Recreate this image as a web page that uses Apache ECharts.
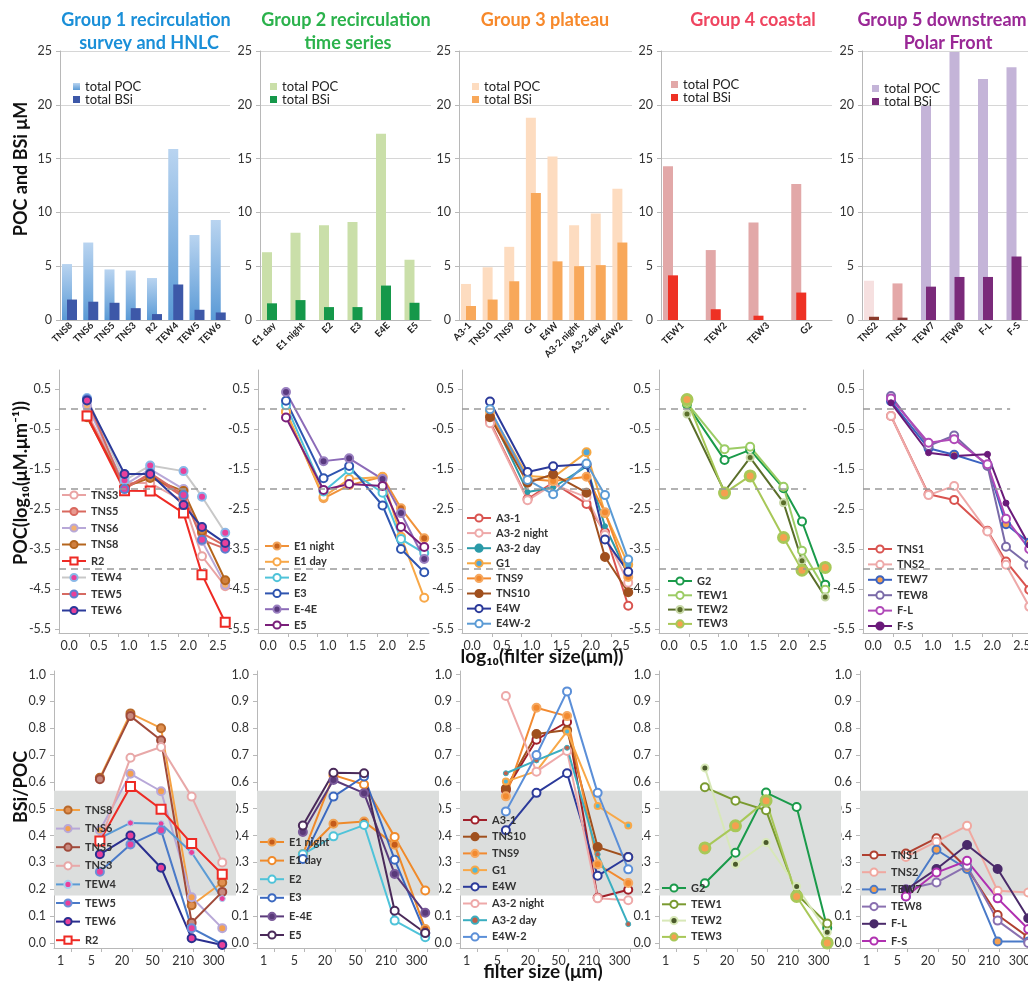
<!DOCTYPE html>
<html><head><meta charset="utf-8">
<script src="https://cdn.jsdelivr.net/npm/echarts@6/dist/echarts.min.js"></script>
<style>html,body{margin:0;padding:0;background:#fff}#c{width:1028px;height:983px}</style>
</head><body><div id="c"></div>
<script>
const FONT = 'Lato, "Open Sans", "DejaVu Sans", sans-serif';

// ---------- Row 1: total POC / BSi bars ----------
const g1Stations = ['TNS8','TNS6','TNS5','TNS3','R2','TEW4','TEW5','TEW6'];
const g1POC = [5.2, 7.2, 4.7, 4.6, 3.9, 15.9, 7.9, 9.3];
const g1BSi = [1.9, 1.7, 1.6, 1.1, 0.55, 3.3, 0.95, 0.7];
const g2Stations = ['E1 day','E1 night','E2','E3','E4E','E5'];
const g2POC = [6.3, 8.1, 8.8, 9.1, 17.3, 5.6];
const g2BSi = [1.55, 1.85, 1.2, 1.2, 3.2, 1.6];
const g3Stations = ['A3-1','TNS10','TNS9','G1','E4W','A3-2 night','A3-2 day','E4W2'];
const g3POC = [3.35, 4.9, 6.8, 18.8, 15.2, 8.8, 9.9, 12.2];
const g3BSi = [1.3, 1.9, 3.6, 11.8, 5.45, 5.0, 5.1, 7.2];
const g4Stations = ['TEW1','TEW2','TEW3','G2'];
const g4POC = [14.3, 6.5, 9.05, 12.65];
const g4BSi = [4.15, 1.0, 0.4, 2.55];
const g5Stations = ['TNS2','TNS1','TEW7','TEW8','F-L','F-S'];
const g5POC = [3.65, 3.4, 19.9, 24.9, 22.4, 23.5];
const g5BSi = [0.3, 0.22, 3.1, 4.0, 4.0, 5.9];

// ---------- Row 2: POC size spectra ----------
const midX = [0.3, 0.93, 1.36, 1.92, 2.23, 2.62];
const midXLabels = [0, 0.5, 1.0, 1.5, 2.0, 2.5];
const midYLabels = [-5.5, -4.5, -3.5, -2.5, -1.5, -0.5, 0.5];
const refLevels = [0, -2, -4];

const g1MidNames = ['TNS3','TNS5','TNS6','TNS8','R2','TEW4','TEW5','TEW6'];
const g1MidValues = [
  [-0.1, -1.85, -1.85, -2.3, -3.68, -4.43],
  [-0.15, -1.95, -1.65, -2.2, -3.1, -3.42],
  [0.1, -1.9, -1.5, -2.0, -3.3, -4.39],
  [-0.2, -1.95, -1.72, -2.05, -3.05, -4.28],
  [-0.17, -2.04, -2.05, -2.6, -4.14, -5.33],
  [0.28, -1.78, -1.41, -1.55, -2.19, -3.09],
  [0.25, -2.0, -1.6, -2.15, -3.27, -3.49],
  [0.22, -1.62, -1.62, -2.4, -2.95, -3.35]
];
const g2MidNames = ['E1 night','E1 day','E2','E3','E-4E','E5'];
const g2MidValues = [
  [-0.05, -2.23, -1.9, -1.69, -2.48, -3.23],
  [-0.07, -2.19, -1.75, -1.7, -3.19, -4.72],
  [0.1, -2.06, -1.52, -2.09, -3.25, -3.6],
  [0.21, -1.73, -1.42, -2.41, -3.5, -4.08],
  [0.43, -1.3, -1.23, -1.75, -2.6, -3.75],
  [-0.21, -2.02, -1.87, -1.92, -2.95, -3.45]
];
const g3MidNames = ['A3-1','A3-2 night','A3-2 day','G1','TNS9','TNS10','E4W','E4W-2'];
const g3MidValues = [
  [-0.31, -2.25, -1.84, -2.37, -3.08, -4.92],
  [-0.35, -2.28, -1.88, -2.2, -3.15, -4.34],
  [-0.1, -2.07, -1.96, -1.43, -2.93, -4.15],
  [-0.05, -1.67, -1.71, -1.08, -2.6, -3.89],
  [-0.15, -1.75, -1.8, -1.69, -2.58, -4.2],
  [-0.2, -1.84, -1.63, -2.09, -3.7, -4.58],
  [0.19, -1.57, -1.43, -1.38, -3.26, -4.07],
  [0.0, -1.77, -2.13, -1.36, -2.15, -3.76]
];
const g4MidNames = ['G2','TEW1','TEW2','TEW3'];
const g4MidValues = [
  [0.12, -1.27, -1.02, -1.98, -2.81, -4.39],
  [0.15, -1.0, -0.94, -1.94, -3.54, -4.52],
  [-0.12, -2.06, -1.21, -2.34, -3.79, -4.7],
  [0.24, -2.1, -1.67, -3.21, -4.03, -3.96]
];
const g5MidNames = ['TNS1','TNS2','TEW7','TEW8','F-L','F-S'];
const g5MidValues = [
  [-0.17, -2.13, -2.27, -3.04, -3.81, -4.52],
  [-0.17, -2.15, -1.92, -3.06, -3.89, -4.94],
  [0.2, -0.98, -1.14, -1.4, -2.88, -3.34],
  [0.33, -0.92, -0.66, -1.42, -3.44, -3.9],
  [0.27, -0.84, -0.75, -1.38, -2.74, -3.5],
  [0.16, -1.09, -1.17, -1.13, -2.35, -3.4]
];

// ---------- Row 3: BSi/POC ratios ----------
const botX = [1.5, 2.5, 3.5, 4.5, 5.5];
const filterLabels = ['1','5','20','50','210','300'];
const filterLabelPos = [0.22, 1.22, 2.22, 3.22, 4.22, 5.22];
const ratioLabels = [0, 0.1, 0.2, 0.3, 0.4, 0.5, 0.6, 0.7, 0.8, 0.9, 1.0];
const bandRange = [0.177, 0.567];

const g1BotNames = ['TNS8','TNS6','TNS5','TNS3','TEW4','TEW5','TEW6','R2'];
const g1BotValues = [
  [0.615, 0.855, 0.80, 0.14, 0.225],
  [0.42, 0.63, 0.565, 0.17, 0.055],
  [0.61, 0.845, 0.755, 0.075, 0.19],
  [0.375, 0.69, 0.73, 0.545, 0.30],
  [0.39, 0.447, 0.444, 0.337, 0.165],
  [0.265, 0.367, 0.42, 0.055, -0.005],
  [0.33, 0.40, 0.28, 0.017, -0.008],
  [0.38, 0.583, 0.498, 0.37, 0.256]
];
const g2BotNames = ['E1 night','E1 day','E2','E3','E-4E','E5'];
const g2BotValues = [
  [0.33, 0.444, 0.452, 0.366, 0.052],
  [0.33, 0.625, 0.59, 0.395, 0.195],
  [0.33, 0.397, 0.439, 0.083, 0.021],
  [0.313, 0.545, 0.62, 0.31, 0.037],
  [0.413, 0.607, 0.558, 0.257, 0.112],
  [0.437, 0.634, 0.632, 0.12, 0.037]
];
const g3BotNames = ['A3-1','TNS10','TNS9','G1','E4W','A3-2 night','A3-2 day','E4W-2'];
const g3BotValues = [
  [0.57, 0.757, 0.823, 0.168, 0.198],
  [0.575, 0.778, 0.793, 0.357, 0.32],
  [0.546, 0.876, 0.845, 0.293, 0.223],
  [0.601, 0.64, 0.788, 0.51, 0.437],
  [0.42, 0.559, 0.632, 0.25, 0.32],
  [0.92, 0.638, 0.715, 0.166, 0.159],
  [0.632, 0.68, 0.727, 0.33, 0.07],
  [0.49, 0.70, 0.937, 0.559, 0.274]
];
const g4BotNames = ['G2','TEW1','TEW2','TEW3'];
const g4BotValues = [
  [0.222, 0.336, 0.56, 0.506, 0.056],
  [0.58, 0.53, 0.494, 0.181, 0.072],
  [0.652, 0.293, 0.374, 0.21, 0.04],
  [0.354, 0.436, 0.53, 0.173, 0.0]
];
const g5BotNames = ['TNS1','TNS2','TEW7','TEW8','F-L','F-S'];
const g5BotValues = [
  [0.333, 0.39, 0.278, 0.104, 0.021],
  [0.32, 0.377, 0.436, 0.194, 0.188],
  [0.173, 0.347, 0.275, 0.005, 0.005],
  [0.2, 0.225, 0.287, 0.083, 0.0],
  [0.198, 0.275, 0.365, 0.275, 0.092],
  [0.173, 0.262, 0.306, 0.166, 0.052]
];

// ---------- styles ----------
function S(line, fill, opt) { return Object.assign({line: line, fill: fill, border: line, symbol: 'circle', size: 8, bw: 2, lw: 2}, opt || {}); }
const W = '#ffffff', PINK = '#e8409a', ORG = '#f5a050';
const g1MidStyles = [S('#e9a3a3', W), S('#d9685e', '#e89a90'), S('#b8a8d8', '#f3b070'), S('#b5651d', '#d08040'),
  S('#ee2a24', W, {symbol: 'rect', size: 9}), S('#c8c8c8', PINK, {border: '#8ab8e8'}), S('#d66a62', PINK, {border: '#5b7fd0'}), S('#2b3a9a', PINK)];
const g2MidStyles = [S('#f0923a', '#c8641c', {border: '#f2a45a'}), S('#f8a848', W), S('#4fc3d9', W), S('#2f55b0', W), S('#8c6bb8', '#5a3a80', {border: '#9a80c0'}), S('#7a1f7a', W)];
const g3MidStyles = [S('#d9534f', W), S('#eea9a9', W), S('#2a9aa8', '#2a9aa8', {size: 5, bw: 1}), S('#f5a742', '#4fa6d9'),
  S('#f28a30', '#f28a30', {border: '#f6a860'}), S('#a0501e', '#a0501e'), S('#2b3a9a', W), S('#5b9bd5', W)];
const g4MidStyles = [S('#1a9a4a', W), S('#9ccc65', W), S('#5a6e2a', '#5a6e2a', {border: '#c8d8a8', size: 7}), S('#a8c858', ORG, {size: 10, bw: 3})];
const g5MidStyles = [S('#d9534f', W), S('#eea9a9', W), S('#3a62c0', ORG), S('#7a6aa8', W), S('#b04ab8', W), S('#6a1a7a', '#6a1a7a', {size: 6, bw: 1})];

const g1BotStyles = [S('#f5a142', '#e09050', {border: '#b8682a'}), S('#b8a8d8', '#f3a050'), S('#a04a3a', '#c88a80'), S('#e8a8a8', W),
  S('#5b9bd5', PINK, {border: '#a8d0f0', size: 6, bw: 1}), S('#4a7ac8', PINK, {border: '#6a90d8'}), S('#2a2f8f', PINK), S('#ee2a24', W, {symbol: 'rect', size: 9})];
const g2BotStyles = [S('#ee8a2a', '#c45a1a', {border: '#f0a050'}), S('#f08a2a', W), S('#4fc3d9', W), S('#3a68c0', W), S('#5a3a7a', '#5a3a7a', {border: '#7a5a9a'}), S('#4a2a5a', W)];
const g3BotStyles = [S('#a0202a', W), S('#a0501e', '#a0501e'), S('#f28a30', '#f28a30', {border: '#f6a860'}), S('#f8a848', '#4fb8d9', {size: 6}),
  S('#2b3a9a', W), S('#eea9a9', W), S('#3aaec0', '#c0604a', {size: 5, bw: 1}), S('#5b8fd8', W)];
const g4BotStyles = [S('#1a9a4a', W), S('#7a9a30', W), S('#d8e8b8', '#4a5a2a', {size: 7}), S('#a8c858', ORG, {size: 10, bw: 3})];
const g5BotStyles = [S('#b04030', W), S('#f0a8a0', W), S('#4a7ac8', ORG), S('#8a70b0', W), S('#4a2a6a', '#4a2a6a'), S('#b030b0', W)];

// ---------- build ----------
const grids = [], xAxes = [], yAxes = [], series = [], legends = [];
const axisGray = '#b8b8b8';
const labelStyle = {fontSize: 12.5, color: '#333', fontFamily: FONT};
const nameOf = n => n.split('|')[1];

const topLefts = [60, 260, 459, 661, 862], topWidths = [170, 171, 173, 171, 171];
const topLegendPos = [[73, 80], [270, 80], [472, 80], [671, 78], [872, 82]];
function addTop(i, stations, poc, bsi, pocColor, bsiColor, pocItem, bsiItem) {
  grids.push({left: topLefts[i], top: 51, width: topWidths[i], height: 269, containLabel: false, outerBoundsMode: 'none'});
  xAxes.push({type: 'category', gridIndex: i, data: stations,
    axisLine: {lineStyle: {color: axisGray}}, axisTick: {length: 4, lineStyle: {color: axisGray}},
    axisLabel: {rotate: 45, interval: 0, fontSize: 9.5, fontWeight: 'bold', color: '#222', margin: 4, fontFamily: FONT}});
  yAxes.push({type: 'value', gridIndex: i, min: 0, max: 25, interval: 5,
    axisLine: {show: true, lineStyle: {color: axisGray}}, axisTick: {show: true, length: 4, lineStyle: {color: axisGray}},
    splitLine: {lineStyle: {color: '#d6d6d6'}}, axisLabel: labelStyle});
  const p = 'T' + i + '|';
  const catW = topWidths[i] / stations.length;
  series.push({type: 'bar', name: p + 'total POC', xAxisIndex: i, yAxisIndex: i, barWidth: 10, barGap: '-50%',
    itemStyle: {color: pocColor},
    data: poc.map((v, k) => pocItem && pocItem[k] ? {value: v, itemStyle: {color: pocItem[k]}} : v)});
  series.push({type: 'bar', name: p + 'total BSi', xAxisIndex: i, yAxisIndex: i, barWidth: 10, barGap: '-50%',
    itemStyle: {color: bsiColor},
    data: bsi.map((v, k) => bsiItem && bsiItem[k] ? {value: v, itemStyle: {color: bsiItem[k]}} : v)});
  series.push({type: 'bar', name: p + 'pad', xAxisIndex: i, yAxisIndex: i, barWidth: Math.max(catW - 14, 1), barGap: '-50%', data: [], silent: true});
  legends.push({left: topLegendPos[i][0], top: topLegendPos[i][1], padding: 0, orient: 'vertical', icon: 'rect', itemWidth: 7, itemHeight: 7, itemGap: 0,
    selectedMode: false, data: [p + 'total POC', p + 'total BSi'], formatter: nameOf,
    textStyle: {fontSize: 13, color: '#222', fontFamily: FONT, lineHeight: 12}});
}

function lineSeries(prefix, gi, name, xs, ys, st) {
  return {type: 'line', name: prefix + name, xAxisIndex: gi, yAxisIndex: gi,
    data: xs.map((x, k) => [x, ys[k]]), symbol: st.symbol, symbolSize: st.size, showSymbol: true,
    color: st.line, lineStyle: {color: st.line, width: st.lw},
    itemStyle: {color: st.fill, borderColor: st.border, borderWidth: st.bw},
    emphasis: {disabled: true}, z: 3};
}

const midLefts = [59, 258, 462, 659, 863];
const midLegend = [[61, 489, 4.5], [264, 540, 3.8], [466, 512, 3.1], [667, 575, 2.3], [867, 543, 3.4]];
function addMid(i, names, values, styles) {
  const gi = 5 + i, p = 'M' + i + '|';
  grids.push({left: midLefts[i], top: 370, width: 171, height: 263, containLabel: false, outerBoundsMode: 'none'});
  xAxes.push({type: 'value', gridIndex: gi, min: -0.17, max: 2.7,
    axisLine: {show: true, onZero: false, lineStyle: {color: axisGray}},
    axisTick: {show: true, length: 4, customValues: [0.33, 0.83, 1.33, 1.83, 2.33], lineStyle: {color: axisGray}},
    axisLabel: Object.assign({customValues: midXLabels, formatter: v => (+v).toFixed(1), margin: 6}, labelStyle),
    splitLine: {show: false}});
  yAxes.push({type: 'value', gridIndex: gi, min: -5.6, max: 0.98,
    axisLine: {show: true, onZero: false, lineStyle: {color: axisGray}},
    axisTick: {show: true, length: 4, customValues: midYLabels, lineStyle: {color: axisGray}},
    axisLabel: Object.assign({customValues: midYLabels, formatter: v => (+v).toFixed(1)}, labelStyle),
    splitLine: {show: false}});
  series.push({type: 'line', name: p + 'ref', xAxisIndex: gi, yAxisIndex: gi, data: [[-0.17, 0]], showSymbol: false, silent: true, z: 1,
    lineStyle: {opacity: 0},
    markLine: {silent: true, symbol: 'none', label: {show: false},
      lineStyle: {type: [7, 5], color: '#999', width: 1.6},
      data: refLevels.map(v => [{coord: [-0.17, v]}, {coord: [2.3, v]}])}});
  names.forEach((n, k) => series.push(lineSeries(p, gi, n, midX, values[k], styles[k])));
  legends.push({left: midLegend[i][0], top: midLegend[i][1], padding: 0, orient: 'vertical', itemWidth: 24, itemHeight: 9, itemGap: midLegend[i][2],
    selectedMode: false, data: names.map(n => p + n), formatter: nameOf,
    textStyle: {fontSize: 11, fontWeight: 'bold', color: '#333', fontFamily: FONT, lineHeight: 12}});
}

const botLefts = [54, 257, 460, 659, 860];
const botLegend = [[55, 804, 6.6], [259, 836, 6.6], [462, 814, 4.7], [661, 882, 4.3], [861, 849, 5.2]];
function addBot(i, names, values, styles) {
  const gi = 10 + i, p = 'B' + i + '|';
  grids.push({left: botLefts[i], top: 671, width: 182, height: 277, containLabel: false, outerBoundsMode: 'none'});
  xAxes.push({type: 'value', gridIndex: gi, min: 0, max: 5.95,
    axisLine: {show: true, onZero: false, lineStyle: {color: axisGray}},
    axisTick: {show: true, length: 4, customValues: [0.55, 1.55, 2.55, 3.55, 4.55, 5.55], lineStyle: {color: axisGray}},
    axisLabel: Object.assign({customValues: filterLabelPos, formatter: v => filterLabels[Math.round(v - 0.22)], margin: 6}, labelStyle),
    splitLine: {show: false}});
  yAxes.push({type: 'value', gridIndex: gi, min: -0.019, max: 1.013,
    axisLine: {show: true, onZero: false, lineStyle: {color: axisGray}},
    axisTick: {show: true, length: 4, customValues: ratioLabels, lineStyle: {color: axisGray}},
    axisLabel: Object.assign({customValues: ratioLabels, formatter: v => (+v).toFixed(1)}, labelStyle),
    splitLine: {show: false}});
  series.push({type: 'line', name: p + 'band', xAxisIndex: gi, yAxisIndex: gi, data: [[0, 0]], showSymbol: false, silent: true, z: 1,
    lineStyle: {opacity: 0},
    markArea: {silent: true, itemStyle: {color: '#dcdedd'}, data: [[{yAxis: bandRange[0]}, {yAxis: bandRange[1]}]]}});
  names.forEach((n, k) => series.push(lineSeries(p, gi, n, botX, values[k], styles[k])));
  legends.push({left: botLegend[i][0], top: botLegend[i][1], padding: 0, orient: 'vertical', itemWidth: 24, itemHeight: 9, itemGap: botLegend[i][2],
    selectedMode: false, data: names.map(n => p + n), formatter: nameOf,
    textStyle: {fontSize: 11, fontWeight: 'bold', color: '#333', fontFamily: FONT, lineHeight: 12}});
}

const g1Grad = new echarts.graphic.LinearGradient(0, 0, 0, 1, [{offset: 0, color: '#b9d4f0'}, {offset: 1, color: '#5a9ad6'}]);
addTop(0, g1Stations, g1POC, g1BSi, g1Grad, '#3d58a8');
addTop(1, g2Stations, g2POC, g2BSi, '#cadfa9', '#15984a');
addTop(2, g3Stations, g3POC, g3BSi, '#fddcc0', '#f8a85a');
addTop(3, g4Stations, g4POC, g4BSi, '#e2a8a8', '#ee3124');
addTop(4, g5Stations, g5POC, g5BSi, '#c4b4d8', '#7a2a7a', ['#f6e0e0', '#e4a8a8'], ['#8a3a2a', '#8a3a3a']);

addMid(0, g1MidNames, g1MidValues, g1MidStyles);
addMid(1, g2MidNames, g2MidValues, g2MidStyles);
addMid(2, g3MidNames, g3MidValues, g3MidStyles);
addMid(3, g4MidNames, g4MidValues, g4MidStyles);
addMid(4, g5MidNames, g5MidValues, g5MidStyles);

addBot(0, g1BotNames, g1BotValues, g1BotStyles);
addBot(1, g2BotNames, g2BotValues, g2BotStyles);
addBot(2, g3BotNames, g3BotValues, g3BotStyles);
addBot(3, g4BotNames, g4BotValues, g4BotStyles);
addBot(4, g5BotNames, g5BotValues, g5BotStyles);

function txt(text, x, y, color, size, rot) {
  return {type: 'text', x: x, y: y, rotation: rot || 0, silent: true,
    style: {text: text, fill: color, font: 'bold ' + size + 'px ' + FONT, align: 'center', verticalAlign: 'middle'}};
}
const graphics = [
  txt('Group 1 recirculation', 146, 20, '#1a8fd8', 18), txt('survey and HNLC', 149, 43, '#1a8fd8', 18),
  txt('Group 2 recirculation', 346, 20, '#2bb24c', 18), txt('time series', 348, 43, '#2bb24c', 18),
  txt('Group 3 plateau', 545, 20, '#f7892b', 18),
  txt('Group 4 coastal', 753, 20, '#ef4560', 18),
  txt('Group 5 downstream', 942, 20, '#9a2896', 18), txt('Polar Front', 948, 43, '#9a2896', 18),
  txt('POC and BSi \u03bcM', 21, 169, '#111', 18, Math.PI / 2),
  txt('POC(log\u2081\u2080(\u03bcM.\u03bcm\u207b\u00b9))', 21, 483, '#111', 18, Math.PI / 2),
  txt('BSi/POC', 21, 787, '#111', 18, Math.PI / 2),
  txt('log\u2081\u2080(filter size(\u03bcm))', 542, 657, '#111', 19),
  txt('filter size (\u03bcm)', 543, 972, '#111', 19)
];

const chart = echarts.init(document.getElementById('c'), null, {renderer: 'canvas'});
chart.setOption({
  animation: false,
  backgroundColor: '#fff',
  textStyle: {fontFamily: FONT},
  grid: grids, xAxis: xAxes, yAxis: yAxes, series: series, legend: legends,
  graphic: graphics
});
</script></body></html>
